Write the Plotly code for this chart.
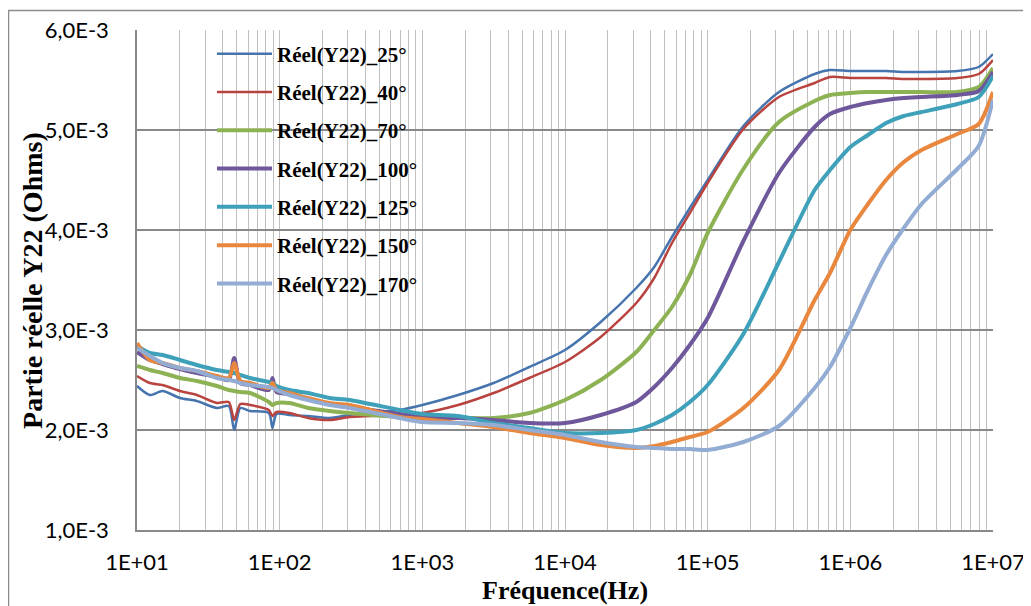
import plotly.graph_objects as go

# Frequency grid (Hz)
freq = [10, 12.3, 15.1, 20, 26.3, 36.3, 44, 48, 53, 62, 84, 89, 95, 117, 158, 224, 309,
        692, 1000, 1780, 3160, 5620, 1.0e4, 1.78e4, 3.16e4, 4.22e4, 5.62e4, 7.5e4, 1.0e5,
        1.78e5, 3.16e5, 5.62e5, 7.2e5, 1.0e6, 1.33e6, 1.78e6, 2.37e6, 3.16e6, 5.62e6,
        7.94e6, 1.0e7]

# Real part of Y22, in units of 1e-3
y_25 = [2.44, 2.35, 2.39, 2.32, 2.29, 2.22, 2.24, 2.00, 2.22, 2.19, 2.17, 2.02, 2.16, 2.15,
        2.14, 2.12, 2.15, 2.20, 2.25, 2.35, 2.47, 2.63, 2.80, 3.08, 3.42,
        3.63, 3.93, 4.22, 4.50, 5.04, 5.38, 5.56, 5.60, 5.59, 5.59, 5.59, 5.58, 5.58, 5.59,
        5.63, 5.76]
y_40 = [2.54, 2.47, 2.45, 2.39, 2.35, 2.27, 2.28, 2.10, 2.26, 2.25, 2.20, 2.14, 2.18, 2.17,
        2.12, 2.10, 2.13, 2.15, 2.17, 2.25, 2.37, 2.52, 2.68, 2.93, 3.27,
        3.52, 3.87, 4.17, 4.47, 5.01, 5.33, 5.47, 5.53, 5.52, 5.52, 5.52, 5.51, 5.51, 5.52,
        5.56, 5.70]
y_70 = [2.64, 2.60, 2.57, 2.52, 2.49, 2.44, 2.40, 2.39, 2.38, 2.37, 2.28, 2.25, 2.27, 2.27,
        2.22, 2.19, 2.17, 2.13, 2.12, 2.12, 2.12, 2.17, 2.30, 2.50, 2.78,
        3.00, 3.23, 3.55, 3.97, 4.61, 5.08, 5.29, 5.35, 5.37, 5.38, 5.38, 5.38, 5.38, 5.38,
        5.43, 5.62]
y_100 = [2.78, 2.70, 2.66, 2.61, 2.57, 2.53, 2.50, 2.72, 2.47, 2.45, 2.40, 2.52, 2.38, 2.36,
         2.31, 2.26, 2.23, 2.16, 2.13, 2.12, 2.10, 2.07, 2.07, 2.15, 2.28,
         2.43, 2.62, 2.85, 3.12, 3.89, 4.57, 5.03, 5.16, 5.23, 5.27, 5.30, 5.32, 5.33, 5.35,
         5.39, 5.58]
y_125 = [2.84, 2.77, 2.75, 2.70, 2.65, 2.60, 2.58, 2.57, 2.55, 2.52, 2.48, 2.47, 2.44, 2.40,
         2.37, 2.32, 2.30, 2.20, 2.16, 2.14, 2.07, 2.02, 1.97, 1.97, 2.00,
         2.06, 2.15, 2.28, 2.45, 2.96, 3.68, 4.40, 4.60, 4.83, 4.95, 5.07, 5.14, 5.18, 5.26,
         5.33, 5.54]
y_150 = [2.87, 2.70, 2.67, 2.62, 2.59, 2.54, 2.52, 2.67, 2.49, 2.47, 2.42, 2.47, 2.40, 2.37,
         2.32, 2.27, 2.25, 2.13, 2.11, 2.07, 2.03, 1.97, 1.92, 1.85, 1.82,
         1.84, 1.88, 1.93, 1.98, 2.22, 2.60, 3.30, 3.57, 4.00, 4.26, 4.50, 4.68, 4.80, 4.96,
         5.06, 5.38]
y_170 = [2.82, 2.74, 2.67, 2.62, 2.59, 2.52, 2.50, 2.49, 2.47, 2.45, 2.43, 2.42, 2.40, 2.35,
         2.30, 2.25, 2.22, 2.12, 2.08, 2.07, 2.05, 2.00, 1.95, 1.88, 1.83,
         1.82, 1.81, 1.81, 1.80, 1.88, 2.04, 2.42, 2.63, 3.02, 3.40, 3.75, 4.02, 4.26, 4.61,
         4.84, 5.30]

names = ["Réel(Y22)_25°", "Réel(Y22)_40°", "Réel(Y22)_70°", "Réel(Y22)_100°",
         "Réel(Y22)_125°", "Réel(Y22)_150°", "Réel(Y22)_170°"]
series = [y_25, y_40, y_70, y_100, y_125, y_150, y_170]
colors = ["#4674AE", "#B8433F", "#8DB253", "#6E579A", "#3FA0BA", "#E8873D", "#92ACD3"]
widths = [2.5, 2.5, 4, 4, 4, 4, 4]

y_ticks = [1e-3, 2e-3, 3e-3, 4e-3, 5e-3, 6e-3]
y_ticktext = ["1,0E-3", "2,0E-3", "3,0E-3", "4,0E-3", "5,0E-3", "6,0E-3"]
decades = [10, 100, 1000, 1e4, 1e5, 1e6, 1e7]
x_ticktext_major = ["1E+01", "1E+02", "1E+03", "1E+04", "1E+05", "1E+06", "1E+07"]

x_tickvals, x_ticktext = [], []
for d, lab in zip(decades, x_ticktext_major):
    x_tickvals.append(d)
    x_ticktext.append(lab)
    if d < 1e7:
        for m in range(2, 10):
            x_tickvals.append(d * m)
            x_ticktext.append("")

fig = go.Figure()
for i, (nm, ys) in enumerate(zip(names, series)):
    fig.add_trace(go.Scatter(
        x=freq, y=[v * 1e-3 for v in ys], mode="lines", name=nm,
        legendgroup=f"g{i}",
        line=dict(color=colors[i], width=widths[i], shape="spline", smoothing=0.7),
    ))

tick_font = dict(family="Lato, Open Sans, sans-serif", size=22, color="#000000")
serif = "Liberation Serif, Times New Roman, serif"

# the page body adds an 8px margin, so the figure is sized 8px smaller
fig.update_layout(
    width=1023, height=598,
    margin=dict(l=129, r=38, t=22, b=76, autoexpand=False),
    paper_bgcolor="white", plot_bgcolor="white",
    showlegend=True,
    legend=dict(
        x=0.0876, y=0.993, xanchor="left", yanchor="top",
        bgcolor="rgba(0,0,0,0)", borderwidth=0,
        traceorder="grouped", tracegroupgap=8, itemwidth=55,
        font=dict(family=serif, size=21, color="#000000", weight="bold"),
    ),
    xaxis=dict(
        type="log", range=[1, 7],
        tickmode="array", tickvals=x_tickvals, ticktext=x_ticktext,
        showgrid=True, gridcolor="#C0C0C0", gridwidth=1,
        showline=True, linecolor="#898989", linewidth=1.5,
        ticks="", ticklabelstandoff=12, tickfont=tick_font,
        zeroline=False, automargin=False,
    ),
    yaxis=dict(
        range=[1e-3, 6e-3],
        tickmode="array", tickvals=y_ticks, ticktext=y_ticktext,
        showgrid=True, gridcolor="#898989", gridwidth=1.5,
        showline=True, linecolor="#898989", linewidth=1.5,
        ticks="", ticklabelstandoff=22, tickfont=tick_font,
        zeroline=False, automargin=False,
    ),
    annotations=[
        dict(text="Fréquence(Hz)", xref="paper", yref="paper", x=0.5, y=-0.12,
             xanchor="center", yanchor="middle", showarrow=False,
             font=dict(family=serif, size=26, color="#000000", weight="bold")),
        dict(text="Partie réelle Y22 (Ohms)", xref="paper", yref="paper",
             x=-0.1227, y=0.5, xanchor="center", yanchor="middle", showarrow=False,
             textangle=-90,
             font=dict(family=serif, size=28, color="#000000", weight="bold")),
    ],
    shapes=[
        dict(type="rect", xref="paper", yref="paper",
             x0=-0.1501, x1=1.2, y0=-0.2, y1=1.039,
             line=dict(color="#8C8C8C", width=1.5), fillcolor="rgba(0,0,0,0)",
             layer="below"),
    ],
)

fig.write_html("out.html")
